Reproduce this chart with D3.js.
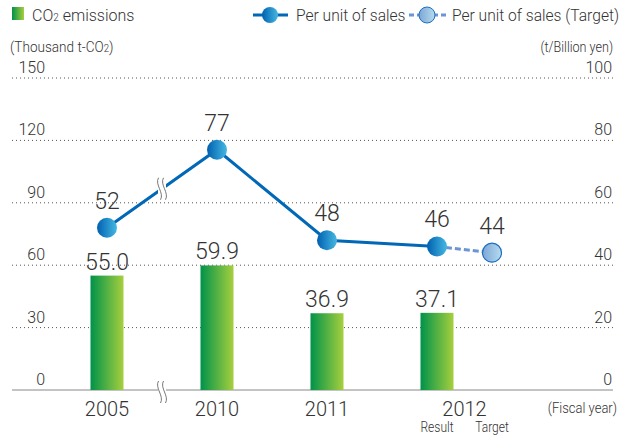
<!DOCTYPE html>
<html>
<head>
  <meta charset="utf-8">
  <title>CO2 emissions</title>
  <script src="https://cdn.jsdelivr.net/npm/d3@7/dist/d3.min.js"></script>
  <style>
    body { margin: 0; background: #fff; }
    svg { display: block; }
    text { fill: #333; font-family: Roboto, "Liberation Sans", Arial, sans-serif; font-weight: 300; }
  </style>
</head>
<body>
  <svg width="627" height="437"></svg>

  <script>
    // data
    const years = ["2005", "2010", "2011", "2012"];
    const slots = [2, 4, 6, 8];           // horizontal slot of each year
    const emissions = [55.0, 59.9, 36.9, 37.1];
    const perSales = [52, 77, 48, 46];
    const targetSlot = 9;
    const targetValue = 44;
    const breakSlot = 3;
    const leftTicks = [0, 30, 60, 90, 120, 150];
    const rightTicks = [0, 20, 40, 60, 80, 100];

    const svg = d3.select("svg");

    const x = d3.scaleLinear().domain([2, 9]).range([107, 492]);
    const yL = d3.scaleLinear().domain([0, 150]).range([390, 78]);
    const yR = d3.scaleLinear().domain([0, 100]).range([390, 78]);

    const defs = svg.append("defs");
    const barGrad = defs.append("linearGradient").attr("id", "barGrad");
    barGrad.append("stop").attr("offset", "0%").attr("stop-color", "#00924a");
    barGrad.append("stop").attr("offset", "100%").attr("stop-color", "#a6cf3e");

    const dotGrad = defs.append("linearGradient").attr("id", "dotGrad");
    dotGrad.append("stop").attr("offset", "0%").attr("stop-color", "#0060b0");
    dotGrad.append("stop").attr("offset", "100%").attr("stop-color", "#45b8e2");

    const tgtGrad = defs.append("linearGradient").attr("id", "tgtGrad");
    tgtGrad.append("stop").attr("offset", "0%").attr("stop-color", "#7ea6d8");
    tgtGrad.append("stop").attr("offset", "100%").attr("stop-color", "#b4dcee");

    // condensed label helper
    function narrow(tx, ty, anchor, size, sx, html) {
      return svg.append("text")
        .attr("transform", `translate(${tx},${ty}) scale(${sx},1)`)
        .attr("text-anchor", anchor)
        .attr("font-size", size)
        .html(html);
    }

    // gridlines
    svg.append("g").selectAll("line")
      .data(leftTicks.filter(d => d > 0))
      .join("line")
      .attr("x1", 12).attr("x2", 613)
      .attr("y1", d => yL(d)).attr("y2", d => yL(d))
      .attr("stroke", "#555")
      .attr("stroke-width", 1)
      .attr("stroke-dasharray", "1,3");

    svg.append("line")
      .attr("x1", 12).attr("x2", 613)
      .attr("y1", yL(0)).attr("y2", yL(0))
      .attr("stroke", "#888").attr("stroke-width", 1);

    // left tick labels
    svg.append("g").selectAll("text")
      .data(leftTicks)
      .join("text")
      .attr("x", 45).attr("y", d => yL(d) - 5)
      .attr("text-anchor", "end")
      .attr("font-size", 16)
      .text(d => d);

    // right tick labels
    svg.append("g").selectAll("text")
      .data(rightTicks)
      .join("text")
      .attr("x", 612).attr("y", d => yR(d) - 5)
      .attr("text-anchor", "end")
      .attr("font-size", 16)
      .text(d => d);

    // axis titles
    narrow(10, 52, "start", 14, 0.97, '(Thousand t-CO<tspan font-size="10">2</tspan>)');
    narrow(613, 52, "end", 14, 0.9, "(t/Billion yen)");

    // bars
    const barW = 33;
    svg.append("g").selectAll("rect")
      .data(emissions)
      .join("rect")
      .attr("x", (d, i) => x(slots[i]) - barW / 2)
      .attr("y", d => yL(d))
      .attr("width", barW)
      .attr("height", d => yL(0) - yL(d))
      .attr("fill", "url(#barGrad)");

    svg.append("g").selectAll("text")
      .data(emissions)
      .join("text")
      .attr("x", (d, i) => x(slots[i]))
      .attr("y", d => yL(d) - 6)
      .attr("text-anchor", "middle")
      .attr("font-size", 23)
      .text(d => d.toFixed(1));

    // line
    const pts = perSales.map((v, i) => ({ s: slots[i], v }));
    const line = d3.line().x(d => x(d.s)).y(d => yR(d.v));

    svg.append("path")
      .datum([pts[3], { s: targetSlot, v: targetValue }])
      .attr("d", line)
      .attr("fill", "none")
      .attr("stroke", "#6b95d4")
      .attr("stroke-width", 3)
      .attr("stroke-dasharray", "6,3");

    svg.append("path")
      .datum(pts)
      .attr("d", line)
      .attr("fill", "none")
      .attr("stroke", "#0068b7")
      .attr("stroke-width", 3);

    svg.append("circle")
      .attr("cx", x(targetSlot)).attr("cy", yR(targetValue)).attr("r", 9.5)
      .attr("fill", "url(#tgtGrad)")
      .attr("stroke", "#1f6fc0").attr("stroke-width", 1.2);

    svg.append("g").selectAll("circle")
      .data(pts)
      .join("circle")
      .attr("cx", d => x(d.s)).attr("cy", d => yR(d.v)).attr("r", 10)
      .attr("fill", "url(#dotGrad)");

    svg.append("g").selectAll("text")
      .data(pts.concat([{ s: targetSlot, v: targetValue }]))
      .join("text")
      .attr("x", d => x(d.s))
      .attr("y", d => yR(d.v) - 19)
      .attr("text-anchor", "middle")
      .attr("font-size", 23)
      .text(d => d.v);

    // break marks
    function breakMark(cx, cy) {
      const g = svg.append("g").attr("transform", `translate(${cx},${cy})`);
      g.append("rect").attr("x", -4).attr("y", -11).attr("width", 8).attr("height", 22)
        .attr("fill", "#fff");
      [-2.5, 2.5].forEach(dx => {
        g.append("path")
          .attr("d", `M${dx - 1},-11 C${dx - 5},-4 ${dx + 5},4 ${dx + 1},11`)
          .attr("fill", "none").attr("stroke", "#555").attr("stroke-width", 0.8);
      });
    }
    const lineBreakY = (yR(perSales[0]) + yR(perSales[1])) / 2;
    breakMark(x(breakSlot), lineBreakY);
    breakMark(x(breakSlot), yL(0) + 2);

    // x labels
    svg.append("g").selectAll("text")
      .data(years)
      .join("text")
      .attr("x", (d, i) => d === "2012" ? (x(slots[i]) + x(targetSlot)) / 2 : x(slots[i]))
      .attr("y", 416)
      .attr("text-anchor", "middle")
      .attr("font-size", 20)
      .text(d => d);

    narrow(x(slots[3]), 432, "middle", 14, 0.86, "Result");
    narrow(x(targetSlot), 432, "middle", 14, 0.86, "Target");
    narrow(617, 413, "end", 14, 0.93, "(Fiscal year)");

    // legend
    svg.append("rect").attr("x", 12).attr("y", 7).attr("width", 12).attr("height", 13)
      .attr("fill", "url(#barGrad)");
    svg.append("text").attr("x", 32).attr("y", 21).attr("font-size", 16)
      .html('CO<tspan font-size="10">2</tspan> emissions');

    svg.append("line").attr("x1", 253).attr("x2", 288).attr("y1", 15).attr("y2", 15)
      .attr("stroke", "#0068b7").attr("stroke-width", 3);
    svg.append("circle").attr("cx", 270).attr("cy", 15).attr("r", 8)
      .attr("fill", "url(#dotGrad)");
    svg.append("text").attr("x", 296).attr("y", 21).attr("font-size", 15.6)
      .text("Per unit of sales");

    svg.append("line").attr("x1", 409).attr("x2", 446).attr("y1", 15).attr("y2", 15)
      .attr("stroke", "#6b95d4").attr("stroke-width", 3).attr("stroke-dasharray", "5,3");
    svg.append("circle").attr("cx", 427).attr("cy", 15).attr("r", 8)
      .attr("fill", "url(#tgtGrad)").attr("stroke", "#1f6fc0").attr("stroke-width", 1);
    svg.append("text").attr("x", 452).attr("y", 21).attr("font-size", 15.6)
      .text("Per unit of sales (Target)");
  </script>
</body>
</html>
